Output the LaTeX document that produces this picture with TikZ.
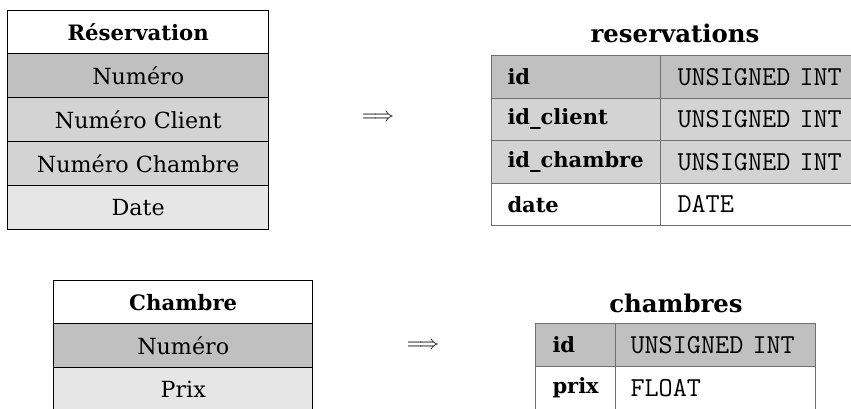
\documentclass[tikz,border=0pt]{standalone}
\usepackage{fontspec}
\setmainfont{DejaVu Serif}
\setmonofont{Latin Modern Mono}
\definecolor{cdark}{HTML}{C0C0C0}
\definecolor{cmid}{HTML}{D3D3D3}
\definecolor{clight}{HTML}{E6E6E6}
\definecolor{grule}{HTML}{707070}
\begin{document}
\begin{tikzpicture}[x=0.5pt,y=-0.5pt,
  ecell/.style 2 args={draw=black, line width=0.7pt, inner sep=0pt, anchor=north west,
    minimum width=#1*0.5pt, minimum height=#2*0.5pt, font=\fontsize{11.1}{13}\selectfont},
  ehead/.style={font=\fontsize{10.6}{13}\selectfont\bfseries},
  tcell/.style n args={3}{draw=grule, line width=0.5pt, anchor=north west, align=left,
    inner ysep=0pt, inner xsep=#3*0.5pt, text width=(#1-2*#3)*0.5pt,
    minimum height=#2*0.5pt},
  tname/.style={font=\fontsize{10.5}{13}\selectfont\bfseries},
  ttype/.style={font=\fontsize{13.7}{15}\selectfont\ttfamily},
  ttitle/.style={font=\fontsize{12.2}{15}\selectfont\bfseries, anchor=base},
  becomes/.style={font=\fontsize{10}{12}\selectfont, inner sep=0pt}
]
\clip (0,0) rectangle (851,408);

% ---- Entity Réservation
\node[ecell={261}{43}, ehead, fill=white] (r0) at (7,10) {Réservation};
\node[ecell={261}{44}, fill=cdark]  (r1) at (7,53)  {Numéro};
\node[ecell={261}{44}, fill=cmid]   (r2) at (7,97)  {Numéro Client};
\node[ecell={261}{44}, fill=cmid]   (r3) at (7,141) {Numéro Chambre};
\node[ecell={261}{44}, fill=clight] (r4) at (7,185) {Date};

\node[becomes] (arr1) at (378,118) {$\Longrightarrow$};

% ---- Table reservations
\node[ttitle] (tres) at (675,42) {reservations};
\node[tcell={169}{42.5}{16}, tname, fill=cdark]  (a1) at (491,55)    {id};
\node[tcell={199}{42.5}{17}, ttype, fill=cdark]  (b1) at (660,55)    {UNSIGNED INT};
\node[tcell={169}{42.5}{16}, tname, fill=cmid]   (a2) at (491,97.5)  {id\_client};
\node[tcell={199}{42.5}{17}, ttype, fill=cmid]   (b2) at (660,97.5)  {UNSIGNED INT};
\node[tcell={169}{42.5}{16}, tname, fill=cmid]   (a3) at (491,140)   {id\_chambre};
\node[tcell={199}{42.5}{17}, ttype, fill=cmid]   (b3) at (660,140)   {UNSIGNED INT};
\node[tcell={169}{42.5}{16}, tname, fill=white]  (a4) at (491,182.5) {date};
\node[tcell={199}{42.5}{17}, ttype, fill=white]  (b4) at (660,182.5) {DATE};

% ---- Entity Chambre
\node[ecell={259}{43}, ehead, fill=white] (c0) at (53,280) {Chambre};
\node[ecell={259}{44}, fill=cdark]  (c1) at (53,323) {Numéro};
\node[ecell={259}{44}, fill=clight] (c2) at (53,367) {Prix};

\node[becomes] (arr2) at (423,346) {$\Longrightarrow$};

% ---- Table chambres
\node[ttitle] (tch) at (676,312) {chambres};
\node[tcell={80}{43}{17}, tname, fill=cdark]   (d1) at (535,323) {id};
\node[tcell={200}{43}{15}, ttype, fill=cdark]  (e1) at (615,323) {UNSIGNED INT};
\node[tcell={80}{43}{17}, tname, fill=white]   (d2) at (535,366) {prix};
\node[tcell={200}{43}{15}, ttype, fill=white]  (e2) at (615,366) {FLOAT};
\end{tikzpicture}
\end{document}
